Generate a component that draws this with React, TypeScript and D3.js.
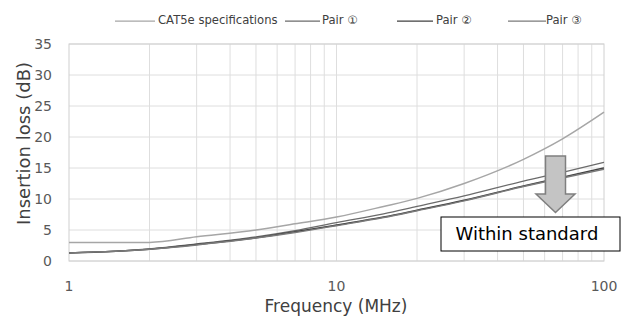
import React, { useEffect } from "react";
import * as d3 from "d3";

const freqs = [1, 2, 3, 5, 7, 10, 15, 20, 30, 50, 70, 100];
const cat5eSpec = [3.0, 3.0, 3.9, 5.0, 6.0, 7.1, 8.8, 10.1, 12.5, 16.4, 19.7, 24.0];
const pair1 = [1.3, 1.95, 2.75, 3.9, 4.9, 6.2, 7.6, 8.8, 10.5, 12.9, 14.3, 15.9];
const pair2 = [1.3, 1.9, 2.65, 3.75, 4.7, 5.8, 7.1, 8.2, 9.8, 12.1, 13.5, 15.0];
const pair3 = [1.3, 1.9, 2.6, 3.7, 4.6, 5.7, 7.0, 8.1, 9.7, 12.0, 13.4, 14.8];
const yTicks = [0, 5, 10, 15, 20, 25, 30, 35];
const xTickLabels = [1, 10, 100];

const seriesList = [
  { name: "CAT5e specifications", values: cat5eSpec, color: "#a6a6a6", width: 1.5 },
  { name: "Pair \u2460", values: pair1, color: "#6b6b6b", width: 1.25 },
  { name: "Pair \u2461", values: pair2, color: "#404040", width: 1.5 },
  { name: "Pair \u2462", values: pair3, color: "#7a7a7a", width: 1.5 },
];

const legendLayout = [
  { x1: 115, x2: 155, tx: 158, size: 11.6 },
  { x1: 285, x2: 320, tx: 322, size: 11.6 },
  { x1: 397, x2: 433, tx: 436, size: 11.6 },
  { x1: 508, x2: 546, tx: 546, size: 11.6 },
];

const W = 632;
const H = 320;
const left = 69;
const right = 604;
const top = 44;
const bottom = 261;

export default function App() {
  useEffect(() => {
    document.body.style.margin = "0";
  }, []);

  const x = d3.scaleLog().domain([1, 100]).range([left, right]);
  const y = d3.scaleLinear().domain([0, 35]).range([bottom, top]);

  const minor: number[] = [];
  for (const dec of [1, 10]) {
    for (let k = 2; k <= 9; k++) minor.push(dec * k);
  }
  minor.push(10);

  const line = d3
    .line<number>()
    .x((_, i) => x(freqs[i]))
    .y((d) => y(d))
    .curve(d3.curveMonotoneX);

  const font = "'DejaVu Sans', Verdana, sans-serif";

  const ax = 555.5;
  const shaftHalf = 10;
  const headHalf = 19.5;
  const shaftTop = 156;
  const headTop = 194;
  const tip = 212.5;
  const arrowPts = [
    [ax - shaftHalf, shaftTop],
    [ax + shaftHalf, shaftTop],
    [ax + shaftHalf, headTop],
    [ax + headHalf, headTop],
    [ax, tip],
    [ax - headHalf, headTop],
    [ax - shaftHalf, headTop],
  ]
    .map((p) => p.join(","))
    .join(" ");

  return (
    <svg width={W} height={H} style={{ display: "block", background: "#fff" }} fontFamily={font}>
      <g stroke="#dedede" strokeWidth={1}>
        {yTicks.map((t) => (
          <line key={"h" + t} x1={left} x2={right} y1={y(t)} y2={y(t)} />
        ))}
        {minor.map((f) => (
          <line key={"v" + f} x1={x(f)} x2={x(f)} y1={top} y2={bottom} />
        ))}
      </g>
      <rect x={left} y={top} width={right - left} height={bottom - top} fill="none" stroke="#d0d0d0" />

      <g fill="#595959" fontSize={14} textAnchor="end">
        {yTicks.map((t) => (
          <text key={"yl" + t} x={52} y={y(t)} dy="0.35em">
            {t}
          </text>
        ))}
      </g>
      <g fill="#595959" fontSize={14} textAnchor="middle">
        {xTickLabels.map((t) => (
          <text key={"xl" + t} x={x(t)} y={291}>
            {t}
          </text>
        ))}
      </g>

      <text x={336} y={312} textAnchor="middle" fontSize={17} fill="#404040">
        Frequency (MHz)
      </text>
      <text
        transform={`translate(30,143.5) rotate(-90)`}
        textAnchor="middle"
        fontSize={18}
        fill="#404040"
      >
        Insertion loss (dB)
      </text>

      {seriesList.map((s) => (
        <path key={s.name} d={line(s.values) || ""} fill="none" stroke={s.color} strokeWidth={s.width} />
      ))}

      {seriesList.map((s, i) => {
        const L = legendLayout[i];
        return (
          <g key={"lg" + i}>
            <line x1={L.x1} x2={L.x2} y1={21} y2={21} stroke={s.color} strokeWidth={1.25} />
            <text x={L.tx} y={20} dy="0.35em" fontSize={L.size} fill="#404040">
              {s.name}
            </text>
          </g>
        );
      })}

      <polygon points={arrowPts} fill="#c4c4c4" stroke="#7f7f7f" strokeWidth={1.5} />

      <rect x={441} y={217} width={179} height={34} fill="#fff" stroke="#000" strokeWidth={1} />
      <text x={455.5} y={234} dy="0.35em" fontSize={18} fill="#000">
        Within standard
      </text>
    </svg>
  );
}
